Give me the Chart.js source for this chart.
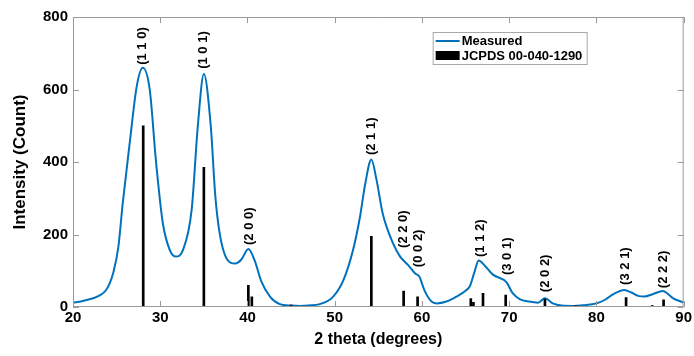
<!DOCTYPE html>
<html>
<head>
<meta charset="utf-8">
<script src="https://cdn.jsdelivr.net/npm/chart.js@4/dist/chart.umd.min.js"></script>
<style>
html,body{margin:0;padding:0;background:#fff;}
#wrap{width:694px;height:356px;}
</style>
</head>
<body>
<div id="wrap"><canvas id="c" width="694" height="356"></canvas></div>
<script>
// Measured XRD pattern
const measuredX = [20,21,22.3,23.2,23.8,24.2,24.6,25.2,25.7,26.5,27.3,28.0,28.8,29.5,30.3,31.1,31.8,32.6,33.6,34.3,35.0,35.8,36.3,36.8,37.6,38.6,39.3,40.1,40.8,41.6,42.6,43.7,45,46,47,48.3,49.8,51.0,52.1,52.9,53.5,54.2,54.8,55.5,56.7,57.5,58.4,59.2,59.7,60.3,61.1,61.7,62.8,63.9,65.0,65.5,66.0,66.5,67.2,68.1,69.7,70.4,71.2,72.3,73.3,74.1,75.0,76,77.3,78.5,80.0,81.0,81.9,83.2,84.0,84.9,85.5,86.5,87.6,88.8,90];
const measuredY = [12,16,24,34,47,65,93,166,286,452,608,660,599,405,231,157,139,157,268,497,643,497,310,205,134,120,131,160,130,70,28,8,4,3,4,8,28,74,157,249,340,407,350,258,175,139,116,93,84,45,15,10,15,28,45,58,95,128,114,90,68,38,22,15,12,24,10,4,3,5,10,20,35,47,40,30,29,36,44,24,12];
// JCPDS 00-040-1290 reference lines
const refX = [28.05,35.0,40.1,40.5,45.0,54.2,57.9,59.5,65.6,65.9,67.0,69.6,74.1,77.6,83.4,86.4,87.7];
const refY = [500,385,60,28,5,195,44,28,23,13,38,33,22,4,26,4,20];
// Peak (hkl) labels, anchored at data coordinates
const peakLabels = ['(1 1 0)','(1 0 1)','(2 0 0)','(2 1 1)','(2 2 0)','(0 0 2)','(1 1 2)','(3 0 1)','(2 0 2)','(3 2 1)','(2 2 2)'];
const peakLabelX = [28.0,35.0,40.2,54.2,57.9,59.6,66.7,69.8,74.2,83.3,87.7];
const peakLabelY = [668,657,171,419,163,110,138,88,41,61,52];
const xTicks = [20,30,40,50,60,70,80,90];
const yTicks = [0,200,400,600,800];

const FONT = "'Liberation Sans', Arial, Helvetica, sans-serif";
const blue = '#0072BD';

const framePlugin = {
  id: 'frame',
  afterDatasetsDraw(chart) {
    const {ctx, chartArea: a, scales: {x, y}} = chart;
    ctx.save();
    // peak labels
    ctx.fillStyle = '#000';
    ctx.font = 'bold 13px ' + FONT;
    ctx.textAlign = 'left';
    ctx.textBaseline = 'middle';
    peakLabels.forEach((t, i) => {
      const px = x.getPixelForValue(peakLabelX[i]);
      const py = y.getPixelForValue(peakLabelY[i]);
      ctx.save();
      ctx.translate(px, py);
      ctx.rotate(-Math.PI / 2);
      ctx.fillText(t, 0, 0);
      ctx.restore();
    });
    // frame and inward ticks
    ctx.strokeStyle = '#9a9a9a';
    ctx.lineWidth = 1;
    ctx.beginPath();
    ctx.rect(a.left + 0.5, a.top + 0.5, a.right - a.left - 1, a.bottom - a.top - 1);
    const tl = 6;
    xTicks.forEach(v => {
      const px = Math.round(x.getPixelForValue(v)) + 0.5;
      ctx.moveTo(px, a.bottom); ctx.lineTo(px, a.bottom - tl);
      ctx.moveTo(px, a.top); ctx.lineTo(px, a.top + tl);
    });
    yTicks.forEach(v => {
      const py = Math.round(y.getPixelForValue(v)) + 0.5;
      ctx.moveTo(a.left, py); ctx.lineTo(a.left + tl, py);
      ctx.moveTo(a.right, py); ctx.lineTo(a.right - tl, py);
    });
    ctx.stroke();
    // legend
    const lx = a.right - 251, ly = a.top + 15, lw = 154, lh = 32;
    ctx.fillStyle = '#fff';
    ctx.fillRect(lx, ly, lw, lh);
    ctx.strokeStyle = '#a8a8a8';
    ctx.strokeRect(lx + 0.5, ly + 0.5, lw, lh);
    const ds = chart.data.datasets;
    ctx.font = 'bold 13px ' + FONT;
    ctx.fillStyle = '#000';
    ctx.textBaseline = 'middle';
    // line sample
    ctx.strokeStyle = ds[1].borderColor;
    ctx.lineWidth = 2;
    ctx.beginPath();
    ctx.moveTo(lx + 3, ly + 9); ctx.lineTo(lx + 27, ly + 9);
    ctx.stroke();
    ctx.fillText(ds[1].label, lx + 29, ly + 9);
    ctx.fillStyle = ds[0].backgroundColor;
    ctx.fillRect(lx + 3, ly + 19, 24, 9);
    ctx.fillStyle = '#000';
    ctx.fillText(ds[0].label, lx + 29, ly + 24);
    ctx.restore();
  }
};

new Chart(document.getElementById('c'), {
  type: 'line',
  data: {
    datasets: [
      {
        type: 'bar',
        label: 'JCPDS 00-040-1290',
        data: refX.map((v, i) => ({x: v, y: refY[i]})),
        backgroundColor: '#000',
        borderWidth: 0,
        barThickness: 2,
        grouped: false,
        order: 0
      },
      {
        type: 'line',
        label: 'Measured',
        data: measuredX.map((v, i) => ({x: v, y: measuredY[i]})),
        borderColor: blue,
        backgroundColor: blue,
        borderWidth: 2,
        pointRadius: 0,
        cubicInterpolationMode: 'monotone',
        fill: false,
        order: 1
      }
    ]
  },
  options: {
    responsive: false,
    animation: false,
    events: [],
    layout: {padding: {top: 17, right: 10, left: 0, bottom: 0}},
    plugins: {legend: {display: false}, tooltip: {enabled: false}},
    scales: {
      x: {
        type: 'linear',
        min: 20, max: 90,
        offset: false,
        afterBuildTicks: s => { s.ticks = xTicks.map(v => ({value: v})); },
        afterFit: s => { s.height = 49; },
        grid: {display: false, drawTicks: false},
        border: {display: false},
        ticks: {color: '#000', font: {family: FONT, size: 15, weight: 'bold'}, padding: 2, maxRotation: 0, autoSkip: false},
        title: {display: true, text: '2 theta (degrees)', color: '#000', font: {family: FONT, size: 16, weight: 'bold'}, padding: {top: 0, bottom: 7}}
      },
      y: {
        type: 'linear',
        min: 0, max: 800,
        afterBuildTicks: s => { s.ticks = yTicks.map(v => ({value: v})); },
        afterFit: s => { s.width = 73; },
        grid: {display: false, drawTicks: false},
        border: {display: false},
        ticks: {color: '#000', font: {family: FONT, size: 15, weight: 'bold'}, padding: 5},
        title: {display: true, text: 'Intensity (Count)', color: '#000', font: {family: FONT, size: 17, weight: 'bold'}, padding: {top: 10, bottom: 0}}
      }
    }
  },
  plugins: [framePlugin]
});
</script>
</body>
</html>
